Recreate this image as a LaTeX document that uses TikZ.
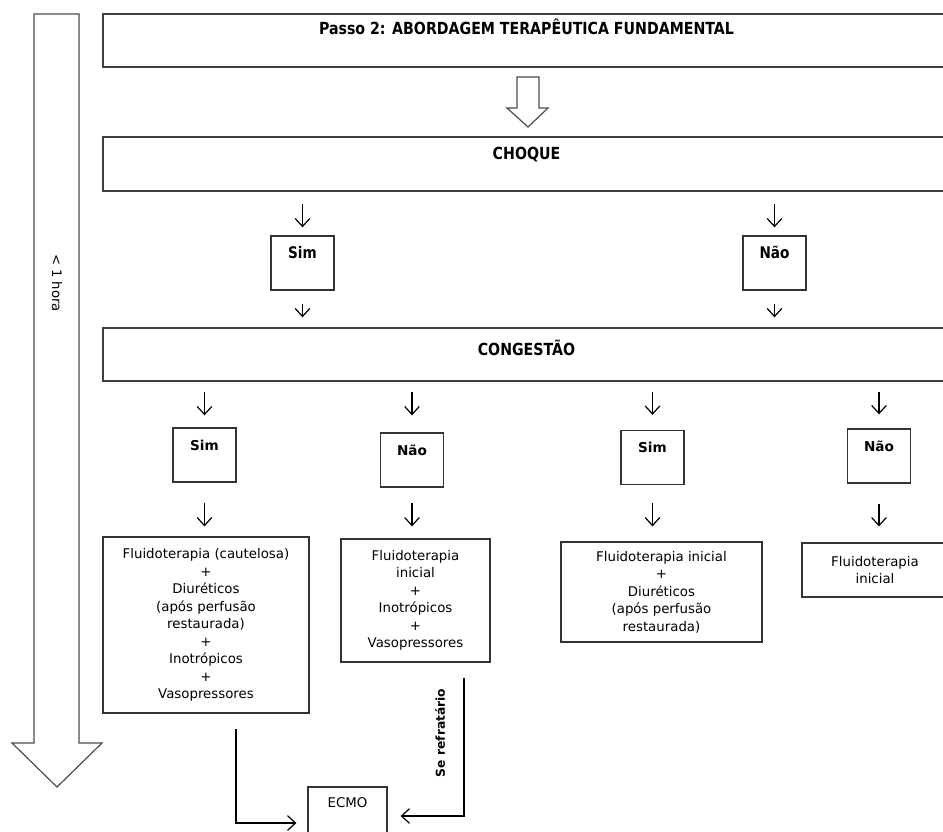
\documentclass[tikz,border=0pt]{standalone}
\usepackage{fontspec}
\setmainfont{DejaVu Sans}
\newfontfamily\titlefont{DejaVu Sans}[FakeStretch=0.85]
\usetikzlibrary{arrows.meta, positioning}

\tikzset{
  bigbox/.style={draw=black!75, line width=1pt, minimum width=635.25pt, inner sep=0pt},
  titletext/.style={font=\titlefont\bfseries\fontsize{12.5}{14}\selectfont, inner sep=0pt},
  choicebox/.style={draw=black!80, line width=1pt, minimum width=47.25pt, minimum height=40.5pt,
    inner sep=0pt, text height=16.5pt, text depth=24pt},
  treatbox/.style={draw=black!80, line width=0.9pt, align=center, inner sep=0pt,
    font=\fontsize{10}{13.1}\selectfont},
  seta/.style={draw, line width=0.9pt, -{Straight Barb[length=6pt, width=11pt, line width=0.9pt]}},
  hollow/.style={draw=black!70, line width=0.9pt, fill=white},
}

\begin{document}
\begin{tikzpicture}[x=0.75pt, y=-0.75pt]
  \useasboundingbox (0,0) rectangle (943,832);
  \clip (0,0) rectangle (943,832);

  % seta do tempo
  \draw[hollow] (34,14) -- (79,14) -- (79,743) -- (102,743) -- (57,787) -- (12,743) -- (34,743) -- cycle;
  \node[rotate=-90, font=\fontsize{9.9}{11}\selectfont] (hora) at (57,283) {< 1 hora};

  % caixas principais
  \node[bigbox, minimum height=39.75pt] (passo) at (526.5,40.5) {};
  \node[titletext, below=4pt of passo.north] (passotxt) {Passo 2: ABORDAGEM TERAPÊUTICA FUNDAMENTAL};
  \draw[hollow] (517,77) -- (539,77) -- (539,108) -- (548,108) -- (528,127) -- (507,108) -- (517,108) -- cycle;

  \node[bigbox, minimum height=40.5pt] (choque) at (526.5,164) {};
  \node[titletext, below=8pt of choque.north] (choquetxt) {CHOQUE};

  \node[bigbox, minimum height=39.75pt] (congest) at (526.5,354.5) {};
  \node[titletext, below=9pt of congest.north] (congesttxt) {CONGESTÃO};

  % sim / nao do choque
  \node[choicebox, font=\titlefont\bfseries\fontsize{12}{13}\selectfont] (chqsim) at (302.5,263) {Sim};
  \node[choicebox, font=\titlefont\bfseries\fontsize{12}{13}\selectfont] (chqnao) at (774.5,263) {Não};

  \draw[seta, shorten <=9pt, shorten >=6pt] (choque.south -| chqsim) -- (chqsim.north);
  \draw[seta, shorten <=9pt, shorten >=6pt] (choque.south -| chqnao) -- (chqnao.north);
  \draw[seta, shorten <=9.75pt, shorten >=7.5pt] (chqsim.south) -- (chqsim.south |- congest.north);
  \draw[seta, shorten <=9.75pt, shorten >=7.5pt] (chqnao.south) -- (chqnao.south |- congest.north);

  % sim / nao da congestao
  \node[choicebox, font=\bfseries\fontsize{10.2}{11}\selectfont] (cgsim1) at (204.5,455) {Sim};
  \node[choicebox, font=\bfseries\fontsize{10.2}{11}\selectfont] (cgnao1) at (412,460) {Não};
  \node[choicebox, font=\bfseries\fontsize{10.2}{11}\selectfont] (cgsim2) at (652.5,457.5) {Sim};
  \node[choicebox, font=\bfseries\fontsize{10.2}{11}\selectfont] (cgnao2) at (879,456) {Não};

  \draw[seta, shorten <=8pt, shorten >=9pt] (congest.south -| cgsim1) -- (cgsim1.north);
  \draw[seta, shorten <=8pt, shorten >=12.75pt] (congest.south -| cgnao1) -- (cgnao1.north);
  \draw[seta, shorten <=8pt, shorten >=11.25pt] (congest.south -| cgsim2) -- (cgsim2.north);
  \draw[seta, shorten <=8pt, shorten >=10.5pt] (congest.south -| cgnao2) -- (cgnao2.north);

  % tratamentos
  \node[treatbox, minimum width=154.5pt, minimum height=132pt] (trat1) at (206,625)
    {Fluidoterapia (cautelosa)\\+\\Diuréticos\\(após perfusão\\restaurada)\\+\\Inotrópicos\\+\\Vasopressores};
  \node[treatbox, minimum width=111.75pt, minimum height=92.25pt] (trat2) at (415.5,600.5)
    {Fluidoterapia\\inicial\\+\\Inotrópicos\\+\\Vasopressores};
  \node[treatbox, minimum width=150.75pt, minimum height=75pt] (trat3) at (661.5,592)
    {Fluidoterapia inicial\\+\\Diuréticos\\(após perfusão\\restaurada)};
  \node[treatbox, minimum width=109.5pt, minimum height=40.5pt] (trat4) at (875,570)
    {Fluidoterapia\\inicial};

  \draw[seta, shorten <=15pt, shorten >=7.5pt] (cgsim1.south) -- (cgsim1.south |- trat1.north);
  \draw[seta, shorten <=11.25pt, shorten >=9pt] (cgnao1.south) -- (cgnao1.south |- trat2.north);
  \draw[seta, shorten <=13.5pt, shorten >=11.25pt] (cgsim2.south) -- (cgsim2.south |- trat3.north);
  \draw[seta, shorten <=15pt, shorten >=12pt] (cgnao2.south) -- (cgnao2.south |- trat4.north);

  % ECMO
  \node[treatbox, minimum width=59.25pt, minimum height=54pt, text height=15pt, text depth=39pt] (ecmo) at (347.5,823) {ECMO};

  \draw[seta, shorten >=8.25pt] ([shift={(30,15)}]trat1.south) |- (ecmo.west);
  \draw[seta, shorten >=9.75pt] ([shift={(48.5,15)}]trat2.south) |- coordinate[pos=0.2] (refr) ([yshift=5.25pt]ecmo.east);
  \node[rotate=90, font=\bfseries\fontsize{9.2}{10}\selectfont] (refrtxt) at ([xshift=-18pt]refr) {Se refratário};
\end{tikzpicture}
\end{document}
